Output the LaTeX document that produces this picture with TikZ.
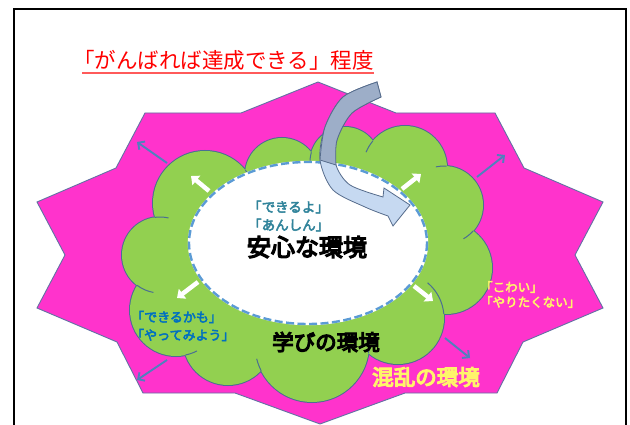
\documentclass[tikz,border=0pt]{standalone}
\usepackage{fontspec}
\newfontfamily\jp{Noto Sans CJK JP}
\newfontfamily\jpb[FakeBold=3.5]{Noto Sans CJK JP}
\newfontfamily\jpbb[FakeBold=5.5]{Noto Sans CJK JP}
\usetikzlibrary{arrows.meta}
\definecolor{starpink}{HTML}{FF33CC}
\definecolor{starline}{HTML}{6272A4}
\definecolor{cloudgreen}{HTML}{92D050}
\definecolor{cloudline}{HTML}{4A6F92}
\definecolor{dashblue}{HTML}{5B9BD5}
\definecolor{arrblue}{HTML}{4F81BD}
\definecolor{teal}{HTML}{31849B}
\definecolor{txtblue}{HTML}{0070C0}
\definecolor{ylw}{HTML}{FFF46A}
\definecolor{titlered}{HTML}{FF0000}
\definecolor{ulred}{HTML}{FF5A5A}
\definecolor{cagrey}{HTML}{9DAEC8}
\definecolor{calight}{HTML}{C6D9F1}
\definecolor{caline}{HTML}{566C8C}
\tikzset{
  bluearr/.style={draw=arrblue, line width=1.9pt, -{Straight Barb[length=5pt,width=10pt]}},
  wharr/.style={draw=white, line width=4.5pt, -{Triangle[length=7pt,width=12pt]}},
  tick/.style={draw=cloudline, line width=1pt},
  jtext/.style={inner sep=0pt, font=\jp},
}
\begin{document}
\begin{tikzpicture}[x=1pt,y=-1pt]
\useasboundingbox (0,0) rectangle (630,425);
\fill[white] (0,0) rectangle (630,425);
\draw[line width=2.2pt] (14,427) -- (14,9) -- (626,9) -- (626,427);

% title
\node[jtext, text=titlered, font=\jp\fontsize{21.5}{24}\selectfont, anchor=west] (title) at (73,60) {「がんばれば達成できる」程度};
\draw[ulred, line width=1.8pt] ([xshift=9pt,yshift=-3pt]title.south west) -- ([yshift=-3pt]title.south east);

% star
\draw[starline, fill=starpink, line width=0.9pt]
 (318,82) -- (396,113) -- (495,113) -- (524,168) -- (603,202) -- (575,255) -- (603,308)
 -- (523,342) -- (497,393) -- (405,393) -- (320,424) -- (235,393) -- (143,393) -- (117,342)
 -- (37,308) -- (65,255) -- (37,202) -- (116,168) -- (145,113) -- (241,113) -- cycle;

% cloud outline pass
\begin{scope}[draw=cloudline, line width=2pt]
\draw (160,255) circle (38);
\draw (176,310) circle (46);
\draw (228,340) circle (45);
\draw (312,345) circle (57);
\draw (398,318) circle (46);
\draw (446,268) circle (46);
\draw (444,205) circle (39);
\draw (405,168) circle (42);
\draw (345,162) circle (35);
\draw (282,175) circle (37);
\draw (205,203) circle (52);
\end{scope}
% cloud fill pass
\fill[cloudgreen] (160,255) circle (38);
\fill[cloudgreen] (176,310) circle (46);
\fill[cloudgreen] (228,340) circle (45);
\fill[cloudgreen] (312,345) circle (57);
\fill[cloudgreen] (398,318) circle (46);
\fill[cloudgreen] (446,268) circle (46);
\fill[cloudgreen] (444,205) circle (39);
\fill[cloudgreen] (405,168) circle (42);
\fill[cloudgreen] (345,162) circle (35);
\fill[cloudgreen] (282,175) circle (37);
\fill[cloudgreen] (205,203) circle (52);
\fill[cloudgreen] (160,255) -- (176,310) -- (228,340) -- (312,345) -- (398,318) -- (446,268)
 -- (444,205) -- (405,168) -- (345,162) -- (282,175) -- (205,203) -- cycle;
% inner arcs of the cloud
\draw[tick] (205,203) ++(-39:52) arc[start angle=-39, end angle=-22, radius=52];
\draw[tick] (345,162) ++(196:35) arc[start angle=196, end angle=176, radius=35];
\draw[tick] (405,168) ++(220:42) arc[start angle=220, end angle=202, radius=42];
\draw[tick] (444,205) ++(274:39) arc[start angle=274, end angle=258, radius=39];
\draw[tick] (444,205) ++(42:39) arc[start angle=42, end angle=60, radius=39];
\draw[tick] (398,318) ++(-5:46) arc[start angle=-5, end angle=-50, radius=46];
\draw[tick] (312,345) ++(8:57) arc[start angle=8, end angle=-6, radius=57];
\draw[tick] (312,345) ++(153:57) arc[start angle=153, end angle=166, radius=57];
\draw[tick] (176,310) ++(78:46) arc[start angle=78, end angle=63, radius=46];
\draw[tick] (160,255) ++(127:38) arc[start angle=127, end angle=100, radius=38];
\draw[tick] (160,255) ++(262:38) arc[start angle=262, end angle=283, radius=38];

% inner ellipse
\fill[white] (308,243) ellipse (119 and 81);
\draw[white, line width=2.4pt] (308,243) ellipse (119 and 81);
\draw[dashblue, line width=2.4pt, dash pattern=on 8pt off 3.5pt] (308,243) ellipse (119 and 81);

% blue arrows in pink area
\coordinate (ula1) at (167,163); \coordinate (ula2) at (137,142);
\coordinate (ura1) at (477,177); \coordinate (ura2) at (505,155);
\coordinate (lla1) at (167,360); \coordinate (lla2) at (137,380);
\coordinate (lra1) at (445,338); \coordinate (lra2) at (470,358);
\draw[bluearr] (ula1) -- (ula2);
\draw[bluearr] (ura1) -- (ura2);
\draw[bluearr] (lla1) -- (lla2);
\draw[bluearr] (lra1) -- (lra2);

% white arrows in green area
\coordinate (wa1) at (209,191); \coordinate (wa2) at (191,176);
\coordinate (wb1) at (402,189); \coordinate (wb2) at (421,174);
\coordinate (wc1) at (198,282); \coordinate (wc2) at (177,298);
\coordinate (wd1) at (414,286); \coordinate (wd2) at (433,301);
\draw[wharr] (wa1) -- (wa2);
\draw[wharr] (wb1) -- (wb2);
\draw[wharr] (wc1) -- (wc2);
\draw[wharr] (wd1) -- (wd2);

% curved arrow
\draw[caline, fill=calight, line width=0.8pt]
  plot[smooth] coordinates {(377,82) (343,97) (325,127) (320,160) (333,190) (365,207) (388,216)}
  -- (393,226) -- (410,205) -- (384,188)
  -- plot[smooth] coordinates {(383,197) (350,185) (336,165) (337,140) (352,113) (381,97)}
  -- cycle;
\draw[caline, fill=cagrey, line width=0.8pt]
  plot[smooth] coordinates {(377,82) (343,97) (325,127) (320,160)}
  -- plot[smooth] coordinates {(336,165) (337,140) (352,113) (381,97)}
  -- cycle;

% texts
\node[jtext, text=teal, font=\jpb\fontsize{13.5}{15}\selectfont, anchor=west] (t1) at (248,207) {「できるよ」};
\node[jtext, text=teal, font=\jpb\fontsize{13.5}{15}\selectfont, anchor=west] (t2) at (248,225) {「あんしん」};
\node[jtext, font=\jpbb\fontsize{24}{26}\selectfont] (t3) at (307,247) {安心な環境};
\node[jtext, text=txtblue, font=\jpb\fontsize{13}{15}\selectfont, anchor=west] (t4) at (131,317) {「できるかも」};
\node[jtext, text=txtblue, font=\jpb\fontsize{13}{15}\selectfont, anchor=west] (t5) at (131,335) {「やってみよう」};
\node[jtext, font=\jpbb\fontsize{21.5}{24}\selectfont] (t6) at (326,342) {学びの環境};
\node[jtext, text=ylw, font=\jpb\fontsize{12.5}{14}\selectfont, anchor=west] (t7) at (480,287) {「こわい」};
\node[jtext, text=ylw, font=\jpb\fontsize{12.5}{14}\selectfont, anchor=west] (t8) at (480,302) {「やりたくない」};
\node[jtext, text=ylw, font=\jpbb\fontsize{21.5}{24}\selectfont] (t9) at (426,377) {混乱の環境};
\end{tikzpicture}
\end{document}
